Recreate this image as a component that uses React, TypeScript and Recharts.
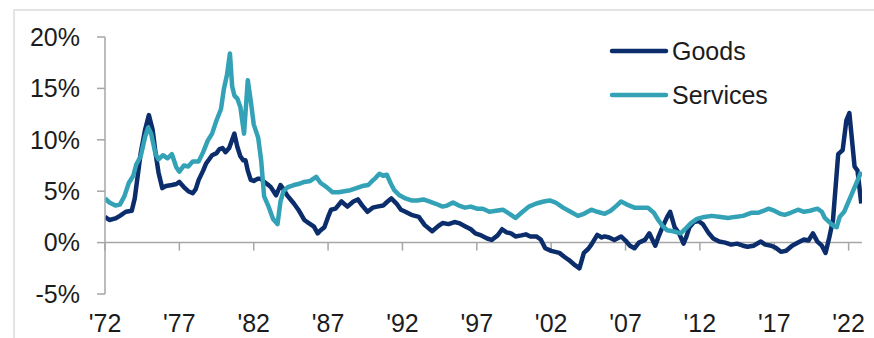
import React from "react";
import { LineChart, Line, XAxis, YAxis, ReferenceLine, Legend } from "recharts";

// Year-over-year change, percent. Each entry is [decimal year, value].
const goodsSeries: [number, number][] = [
  [1972.0, 2.5], [1972.3, 2.2], [1972.7, 2.35], [1973.0, 2.6], [1973.4, 3.0], [1973.8, 3.1],
  [1974.0, 4.3], [1974.2, 6.5], [1974.4, 8.7], [1974.7, 11.0], [1974.95, 12.4], [1975.2, 11.0],
  [1975.4, 8.7], [1975.6, 6.8], [1975.85, 5.3], [1976.1, 5.5], [1976.5, 5.6], [1976.8, 5.7],
  [1977.0, 5.9], [1977.3, 5.4], [1977.6, 5.0], [1977.9, 4.8], [1978.1, 5.2], [1978.3, 6.1],
  [1978.6, 7.0], [1978.8, 7.7], [1979.2, 8.5], [1979.5, 8.7], [1979.7, 9.1], [1979.9, 9.2],
  [1980.1, 8.8], [1980.35, 9.2], [1980.55, 10.0], [1980.7, 10.6], [1980.9, 9.3], [1981.1, 8.4],
  [1981.3, 8.0], [1981.45, 8.0], [1981.6, 7.0], [1981.8, 6.1], [1982.0, 6.0], [1982.25, 6.2],
  [1982.5, 6.2], [1982.7, 5.9], [1983.0, 5.6], [1983.15, 5.4], [1983.5, 4.6], [1983.8, 5.6],
  [1984.0, 5.2], [1984.25, 4.6], [1984.7, 3.8], [1985.0, 3.2], [1985.4, 2.2], [1985.7, 1.9],
  [1986.05, 1.55], [1986.3, 0.9], [1986.5, 1.2], [1986.75, 1.5], [1987.0, 2.5], [1987.2, 3.2],
  [1987.5, 3.3], [1987.9, 4.0], [1988.3, 3.5], [1988.7, 4.0], [1989.0, 4.2], [1989.3, 3.6],
  [1989.65, 3.0], [1990.0, 3.4], [1990.3, 3.5], [1990.7, 3.6], [1991.0, 4.0], [1991.25, 4.3],
  [1991.6, 3.8], [1991.9, 3.2], [1992.2, 3.0], [1992.6, 2.7], [1993.1, 2.5], [1993.5, 1.7],
  [1994.0, 1.1], [1994.4, 1.6], [1994.7, 1.9], [1995.1, 1.8], [1995.5, 2.0], [1995.8, 1.9],
  [1996.2, 1.6], [1996.6, 1.3], [1996.9, 0.9], [1997.3, 0.7], [1997.7, 0.4], [1998.0, 0.26],
  [1998.4, 0.7], [1998.7, 1.3], [1999.0, 1.0], [1999.3, 0.9], [1999.6, 0.6], [2000.0, 0.7],
  [2000.3, 0.8], [2000.6, 0.6], [2001.0, 0.6], [2001.3, 0.3], [2001.6, -0.55], [2002.0, -0.8],
  [2002.55, -1.0], [2002.9, -1.4], [2003.2, -1.7], [2003.6, -2.2], [2003.9, -2.5], [2004.2, -1.0],
  [2004.5, -0.6], [2004.7, -0.2], [2005.1, 0.75], [2005.4, 0.5], [2005.6, 0.6], [2005.9, 0.5],
  [2006.25, 0.26], [2006.7, 0.6], [2007.0, 0.2], [2007.3, -0.3], [2007.6, -0.55], [2007.9, 0.0],
  [2008.3, 0.26], [2008.6, 0.9], [2009.0, -0.3], [2009.2, 0.5], [2009.5, 1.55], [2009.8, 2.5],
  [2010.0, 3.0], [2010.3, 1.5], [2010.6, 0.9], [2010.9, -0.1], [2011.1, 0.6], [2011.3, 1.5],
  [2011.6, 2.0], [2011.9, 2.1], [2012.2, 1.8], [2012.6, 0.9], [2012.9, 0.4], [2013.3, 0.1],
  [2013.7, 0.0], [2014.1, -0.2], [2014.5, -0.1], [2014.9, -0.3], [2015.2, -0.4], [2015.6, -0.3],
  [2016.1, 0.1], [2016.4, -0.2], [2016.8, -0.3], [2017.1, -0.5], [2017.45, -0.9], [2017.8, -0.8],
  [2018.2, -0.3], [2018.6, 0.0], [2019.0, 0.3], [2019.3, 0.2], [2019.6, 0.9], [2019.9, 0.1],
  [2020.2, -0.3], [2020.45, -1.0], [2020.7, 0.5], [2020.95, 2.2], [2021.3, 8.6], [2021.6, 9.0],
  [2021.85, 11.9], [2022.05, 12.6], [2022.4, 7.4], [2022.6, 7.0], [2022.85, 3.8],
];

const servicesSeries: [number, number][] = [
  [1972.0, 4.3], [1972.3, 3.9], [1972.7, 3.6], [1973.0, 3.7], [1973.3, 4.5], [1973.6, 5.8],
  [1973.9, 6.5], [1974.1, 7.6], [1974.4, 8.4], [1974.7, 10.3], [1974.9, 11.2], [1975.1, 10.6],
  [1975.4, 8.6], [1975.6, 8.1], [1975.9, 8.5], [1976.2, 8.2], [1976.5, 8.6], [1976.8, 7.3],
  [1977.0, 6.9], [1977.3, 7.5], [1977.6, 7.4], [1977.9, 7.9], [1978.3, 7.9], [1978.6, 8.8],
  [1978.9, 9.9], [1979.2, 10.6], [1979.5, 11.9], [1979.8, 13.0], [1980.0, 15.0], [1980.2, 16.3],
  [1980.4, 18.4], [1980.55, 15.2], [1980.7, 14.3], [1980.9, 14.0], [1981.1, 13.2], [1981.35, 10.6],
  [1981.6, 15.8], [1981.8, 13.8], [1982.0, 11.5], [1982.3, 10.2], [1982.5, 8.0], [1982.7, 4.5],
  [1983.0, 3.5], [1983.3, 2.3], [1983.6, 1.8], [1983.8, 4.0], [1984.0, 5.0], [1984.3, 5.4],
  [1984.7, 5.6], [1985.0, 5.7], [1985.4, 5.9], [1985.8, 6.0], [1986.2, 6.4], [1986.5, 5.8],
  [1986.9, 5.4], [1987.3, 4.9], [1987.7, 4.9], [1988.1, 5.0], [1988.5, 5.1], [1988.9, 5.3],
  [1989.3, 5.5], [1989.7, 5.6], [1989.9, 5.9], [1990.2, 6.3], [1990.45, 6.7], [1990.7, 6.5],
  [1990.95, 6.6], [1991.2, 5.8], [1991.45, 5.1], [1991.8, 4.6], [1992.2, 4.3], [1992.6, 4.1],
  [1993.0, 4.1], [1993.4, 4.2], [1993.8, 4.0], [1994.2, 3.8], [1994.7, 3.5], [1995.0, 3.6],
  [1995.4, 3.9], [1995.8, 3.6], [1996.2, 3.4], [1996.6, 3.5], [1997.0, 3.3], [1997.4, 3.3],
  [1997.85, 3.0], [1998.3, 3.1], [1998.75, 3.2], [1999.2, 2.8], [1999.6, 2.4], [2000.0, 2.9],
  [2000.5, 3.5], [2001.0, 3.8], [2001.5, 4.0], [2001.9, 4.1], [2002.3, 3.9], [2002.8, 3.4],
  [2003.3, 3.0], [2003.8, 2.6], [2004.2, 2.8], [2004.7, 3.2], [2005.1, 3.0], [2005.6, 2.8],
  [2006.0, 3.1], [2006.4, 3.6], [2006.7, 4.0], [2007.1, 3.7], [2007.6, 3.4], [2008.0, 3.4],
  [2008.5, 3.4], [2008.9, 2.9], [2009.2, 2.2], [2009.5, 1.6], [2009.8, 1.2], [2010.2, 1.1],
  [2010.7, 0.9], [2011.0, 1.3], [2011.4, 1.9], [2011.8, 2.3], [2012.3, 2.5], [2012.8, 2.6],
  [2013.4, 2.5], [2013.9, 2.4], [2014.35, 2.5], [2014.9, 2.6], [2015.45, 2.9], [2015.9, 2.9],
  [2016.3, 3.1], [2016.6, 3.3], [2017.0, 3.1], [2017.4, 2.8], [2017.7, 2.7], [2018.1, 2.9],
  [2018.6, 3.2], [2019.0, 3.0], [2019.4, 3.1], [2019.9, 3.3], [2020.2, 3.0], [2020.4, 2.4],
  [2020.7, 2.0], [2021.0, 1.6], [2021.2, 1.5], [2021.4, 2.5], [2021.7, 3.0], [2022.85, 6.9],
];

const yTicks = [-5, 0, 5, 10, 15, 20];
const xTicks = [1972, 1977, 1982, 1987, 1992, 1997, 2002, 2007, 2012, 2017, 2022];

const GOODS_COLOR = "#0b2d6c";
const SERVICES_COLOR = "#33a2b6";
const AXIS_COLOR = "#a6a6a6";
const TEXT_COLOR = "#1c1c1c";
const FONT = "'Liberation Sans', Arial, sans-serif";

const toRows = (s: [number, number][]) => s.map(([year, v]) => ({ year, v }));

const renderLegend = (props: any) => {
  const payload = props.payload || [];
  return (
    <div>
      {payload.map((entry: any) => (
        <div
          key={entry.value}
          style={{ display: "flex", alignItems: "center", height: 44 }}
        >
          <svg width={60} height={10} style={{ display: "block" }}>
            <line
              x1={3}
              y1={5}
              x2={57}
              y2={5}
              stroke={entry.color}
              strokeWidth={4.5}
              strokeLinecap="round"
            />
          </svg>
          <span
            style={{
              marginLeft: 3,
              fontSize: 25,
              fontFamily: FONT,
              color: TEXT_COLOR,
              lineHeight: "28px",
            }}
          >
            {entry.value}
          </span>
        </div>
      ))}
    </div>
  );
};

export default function App() {
  return (
    <div
      style={{
        position: "absolute",
        left: 0,
        top: 0,
        width: 874,
        height: 338,
        background: "#ffffff",
        overflow: "hidden",
      }}
    >
      <div
        style={{
          position: "absolute",
          left: 13,
          top: 9,
          width: 900,
          height: 400,
          borderTop: "2px solid #e4e4e4",
          borderLeft: "2px solid #e4e4e4",
        }}
      />
      <div style={{ position: "absolute", left: 0, top: 0 }}>
        <LineChart
          width={874}
          height={338}
          margin={{ top: 37, right: 12, bottom: 0, left: 0 }}
        >
          <XAxis
            type="number"
            dataKey="year"
            domain={[1972, 2022.9]}
            ticks={xTicks}
            allowDataOverflow
            tickFormatter={(v: number) => "'" + String(v).slice(2)}
            axisLine={false}
            tickLine={false}
            tickSize={0}
            tickMargin={20}
            height={44}
            interval={0}
            tick={{ fontSize: 25, fontFamily: FONT, fill: TEXT_COLOR }}
          />
          <YAxis
            type="number"
            domain={[-5, 20]}
            ticks={yTicks}
            allowDataOverflow
            tickFormatter={(v: number) => `${v}%`}
            width={105}
            axisLine={{ stroke: AXIS_COLOR, strokeWidth: 1.5 }}
            tickLine={{ stroke: AXIS_COLOR, strokeWidth: 1.5 }}
            tickSize={8}
            tickMargin={17}
            interval={0}
            tick={{ fontSize: 25, fontFamily: FONT, fill: TEXT_COLOR }}
          />
          <ReferenceLine y={0} stroke={AXIS_COLOR} strokeWidth={1.5} />
          {xTicks.map((t) => (
            <ReferenceLine
              key={t}
              segment={[
                { x: t, y: 0 },
                { x: t, y: -0.78 },
              ]}
              stroke={AXIS_COLOR}
              strokeWidth={1.5}
            />
          ))}
          <Line
            data={toRows(goodsSeries)}
            dataKey="v"
            name="Goods"
            type="linear"
            stroke={GOODS_COLOR}
            strokeWidth={4.5}
            strokeLinejoin="round"
            dot={false}
            activeDot={false}
            isAnimationActive={false}
          />
          <Line
            data={toRows(servicesSeries)}
            dataKey="v"
            name="Services"
            type="linear"
            stroke={SERVICES_COLOR}
            strokeWidth={4.5}
            strokeLinejoin="round"
            dot={false}
            activeDot={false}
            isAnimationActive={false}
          />
          <Legend
            layout="vertical"
            verticalAlign="middle"
            align="center"
            content={renderLegend}
            wrapperStyle={{ position: "absolute", left: 609, top: 29, width: 220 }}
          />
        </LineChart>
      </div>
    </div>
  );
}
